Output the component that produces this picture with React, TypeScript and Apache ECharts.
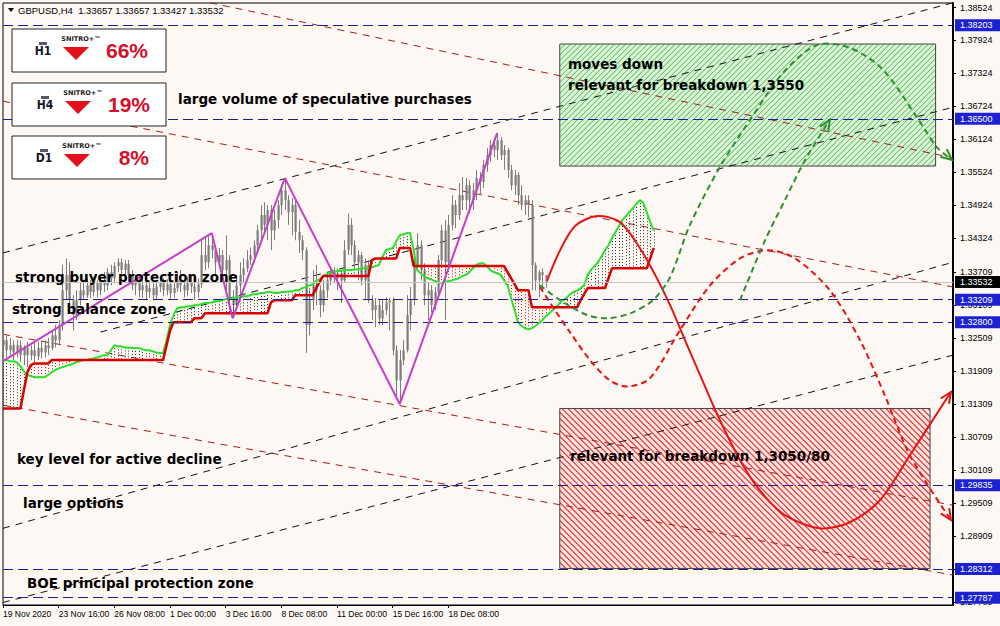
import React, { useEffect, useRef } from 'react';
import * as echarts from 'echarts';

// ---------- DATA ----------
const X_LABEL_BARS = [0, 16, 32, 48, 64, 80, 96, 112, 128];
const X_LABEL_TEXTS = ['19 Nov 2020', '23 Nov 16:00', '26 Nov 08:00', '1 Dec 00:00', '3 Dec 16:00', '8 Dec 08:00', '11 Dec 00:00', '15 Dec 16:00', '18 Dec 08:00'];
const Y_TICKS = [1.38524, 1.37924, 1.37324, 1.36724, 1.36124, 1.35524, 1.34924, 1.34324, 1.33709, 1.33109, 1.32509, 1.31909, 1.31309, 1.30709, 1.30109, 1.29509, 1.28909, 1.28309, 1.27709];
const LEVELS = [1.38203, 1.365, 1.33209, 1.328, 1.29835, 1.28312, 1.27787];
const LAST_PRICE = 1.33532;
const HEADER = 'GBPUSD,H4  1.33657 1.33657 1.33427 1.33532';

// [open, close, low, high] per H4 bar
const CANDLES = [
  [1.3238,1.3247,1.3220,1.3265],[1.3247,1.3229,1.3216,1.3256],[1.3229,1.3238,1.3220,1.3251],[1.3238,1.3225,1.3211,1.3247],
  [1.3225,1.3238,1.3216,1.3247],[1.3238,1.3220,1.3207,1.3247],[1.3220,1.3233,1.3202,1.3238],[1.3233,1.3220,1.3198,1.3244],
  [1.3220,1.3229,1.3211,1.3238],[1.3229,1.3218,1.3207,1.3242],[1.3218,1.3233,1.3211,1.3244],[1.3233,1.3225,1.3214,1.3247],
  [1.3225,1.3238,1.3216,1.3247],[1.3238,1.3233,1.3220,1.3251],[1.3233,1.3256,1.3229,1.3265],[1.3256,1.3247,1.3234,1.3275],
  [1.3247,1.3275,1.3238,1.3284],[1.3275,1.3338,1.3265,1.3384],[1.3338,1.3366,1.3320,1.3396],[1.3366,1.3320,1.3311,1.3389],
  [1.3320,1.3293,1.3265,1.3329],[1.3293,1.3320,1.3284,1.3338],[1.3320,1.3338,1.3311,1.3353],[1.3338,1.3329,1.3320,1.3356],
  [1.3329,1.3347,1.3324,1.3360],[1.3347,1.3335,1.3324,1.3356],[1.3335,1.3351,1.3327,1.3362],[1.3351,1.3338,1.3325,1.3356],
  [1.3338,1.3356,1.3329,1.3366],[1.3356,1.3347,1.3335,1.3371],[1.3347,1.3371,1.3338,1.3378],[1.3371,1.3360,1.3347,1.3384],
  [1.3360,1.3382,1.3353,1.3389],[1.3382,1.3389,1.3371,1.3396],[1.3389,1.3375,1.3366,1.3396],[1.3375,1.3386,1.3364,1.3393],
  [1.3386,1.3366,1.3353,1.3393],[1.3366,1.3347,1.3338,1.3375],[1.3347,1.3356,1.3329,1.3366],[1.3356,1.3338,1.3325,1.3364],
  [1.3338,1.3347,1.3324,1.3356],[1.3347,1.3335,1.3320,1.3356],[1.3335,1.3342,1.3324,1.3353],[1.3342,1.3329,1.3320,1.3351],
  [1.3329,1.3344,1.3322,1.3356],[1.3344,1.3353,1.3335,1.3364],[1.3353,1.3338,1.3327,1.3360],[1.3338,1.3349,1.3329,1.3358],
  [1.3349,1.3333,1.3320,1.3356],[1.3333,1.3342,1.3324,1.3351],[1.3342,1.3356,1.3335,1.3371],[1.3356,1.3347,1.3335,1.3375],
  [1.3347,1.3338,1.3325,1.3356],[1.3338,1.3353,1.3327,1.3362],[1.3353,1.3345,1.3333,1.3366],[1.3345,1.3335,1.3320,1.3356],
  [1.3335,1.3349,1.3325,1.3360],[1.3349,1.3402,1.3342,1.3429],[1.3402,1.3389,1.3375,1.3433],[1.3389,1.3420,1.3378,1.3436],
  [1.3420,1.3411,1.3396,1.3442],[1.3411,1.3389,1.3366,1.3420],[1.3389,1.3402,1.3378,1.3415],[1.3402,1.3375,1.3356,1.3411],
  [1.3375,1.3393,1.3338,1.3438],[1.3393,1.3324,1.3302,1.3402],[1.3324,1.3311,1.3287,1.3338],[1.3311,1.3347,1.3305,1.3366],
  [1.3347,1.3366,1.3329,1.3389],[1.3366,1.3378,1.3353,1.3396],[1.3378,1.3393,1.3371,1.3411],[1.3393,1.3402,1.3384,1.3416],
  [1.3402,1.3420,1.3389,1.3429],[1.3420,1.3447,1.3411,1.3457],[1.3447,1.3475,1.3429,1.3493],[1.3475,1.3457,1.3444,1.3498],
  [1.3457,1.3484,1.3429,1.3493],[1.3484,1.3447,1.3411,1.3493],[1.3447,1.3466,1.3429,1.3484],[1.3466,1.3493,1.3451,1.3502],
  [1.3493,1.3520,1.3475,1.3529],[1.3520,1.3502,1.3484,1.3542],[1.3502,1.3480,1.3457,1.3511],[1.3480,1.3493,1.3438,1.3506],
  [1.3493,1.3444,1.3429,1.3502],[1.3444,1.3429,1.3406,1.3466],[1.3429,1.3411,1.3393,1.3438],[1.3411,1.3275,1.3224,1.3416],
  [1.3275,1.3320,1.3256,1.3338],[1.3320,1.3347,1.3302,1.3375],[1.3347,1.3338,1.3311,1.3384],[1.3338,1.3311,1.3289,1.3347],
  [1.3311,1.3338,1.3298,1.3356],[1.3338,1.3356,1.3324,1.3371],[1.3356,1.3371,1.3347,1.3378],[1.3371,1.3360,1.3351,1.3380],
  [1.3360,1.3369,1.3338,1.3378],[1.3369,1.3356,1.3315,1.3375],[1.3356,1.3411,1.3353,1.3429],[1.3411,1.3457,1.3402,1.3478],
  [1.3457,1.3420,1.3402,1.3469],[1.3420,1.3389,1.3375,1.3429],[1.3389,1.3402,1.3356,1.3411],[1.3402,1.3356,1.3347,1.3407],
  [1.3356,1.3384,1.3320,1.3396],[1.3384,1.3320,1.3315,1.3393],[1.3320,1.3302,1.3284,1.3329],[1.3302,1.3311,1.3271,1.3324],
  [1.3311,1.3287,1.3275,1.3320],[1.3287,1.3302,1.3275,1.3320],[1.3302,1.3316,1.3293,1.3325],[1.3316,1.3320,1.3265,1.3325],
  [1.3320,1.3229,1.3220,1.3325],[1.3229,1.3174,1.3142,1.3238],[1.3174,1.3211,1.3131,1.3229],[1.3211,1.3229,1.3202,1.3247],
  [1.3229,1.3293,1.3225,1.3329],[1.3293,1.3320,1.3265,1.3344],[1.3320,1.3384,1.3311,1.3393],[1.3384,1.3420,1.3375,1.3442],
  [1.3420,1.3375,1.3356,1.3429],[1.3375,1.3329,1.3311,1.3387],[1.3329,1.3338,1.3284,1.3351],[1.3338,1.3311,1.3298,1.3347],
  [1.3311,1.3335,1.3302,1.3344],[1.3335,1.3393,1.3320,1.3402],[1.3393,1.3447,1.3384,1.3457],[1.3447,1.3389,1.3284,1.3466],
  [1.3389,1.3457,1.3375,1.3475],[1.3457,1.3493,1.3447,1.3511],[1.3493,1.3475,1.3451,1.3502],[1.3475,1.3511,1.3466,1.3533],
  [1.3511,1.3502,1.3484,1.3544],[1.3502,1.3529,1.3484,1.3542],[1.3529,1.3502,1.3478,1.3538],[1.3502,1.3520,1.3484,1.3533],
  [1.3520,1.3542,1.3502,1.3557],[1.3542,1.3535,1.3511,1.3553],[1.3535,1.3566,1.3524,1.3575],[1.3566,1.3584,1.3553,1.3597],
  [1.3584,1.3602,1.3571,1.3611],[1.3602,1.3593,1.3580,1.3615],[1.3593,1.3611,1.3575,1.3624],[1.3611,1.3584,1.3575,1.3617],
  [1.3584,1.3593,1.3557,1.3602],[1.3593,1.3557,1.3542,1.3597],[1.3557,1.3529,1.3520,1.3566],[1.3529,1.3548,1.3511,1.3557],
  [1.3548,1.3511,1.3493,1.3553],[1.3511,1.3493,1.3484,1.3529],[1.3493,1.3502,1.3475,1.3511],[1.3502,1.3493,1.3471,1.3511],
  [1.3493,1.3384,1.3338,1.3502],[1.3384,1.3356,1.3338,1.3389],[1.3356,1.3371,1.3325,1.3375],[1.3371,1.3366,1.3338,1.3378],
  [1.33657,1.33532,1.33427,1.33657],
];

// Ichimoku Senkou Span A (green) per bar, shifted forward
const SPAN_A = [
  1.3211,1.3211,1.3209,1.3209,1.3207,1.3200,1.3191,1.3184,1.3182,1.3180,1.3180,1.3180,1.3180,1.3184,1.3189,1.3193,
  1.3196,1.3198,1.3200,1.3202,1.3204,1.3207,1.3209,1.3211,1.3211,1.3213,1.3214,1.3216,1.3218,1.3220,1.3220,1.3229,
  1.3238,1.3236,1.3236,1.3234,1.3234,1.3233,1.3233,1.3233,1.3231,1.3229,1.3229,1.3227,1.3225,1.3224,1.3224,1.3247,
  1.3275,1.3293,1.3305,1.3307,1.3307,1.3309,1.3309,1.3311,1.3311,1.3313,1.3315,1.3315,1.3316,1.3318,1.3318,1.3320,
  1.3322,1.3322,1.3324,1.3325,1.3325,1.3327,1.3327,1.3329,1.3331,1.3331,1.3333,1.3333,1.3335,1.3335,1.3333,1.3333,
  1.3335,1.3335,1.3336,1.3336,1.3338,1.3338,1.3342,1.3344,1.3347,1.3349,1.3355,1.3358,1.3364,1.3367,1.3371,1.3371,
  1.3373,1.3373,1.3375,1.3375,1.3375,1.3376,1.3376,1.3378,1.3378,1.3378,1.3380,1.3382,1.3384,1.3398,1.3411,1.3413,
  1.3415,1.3427,1.3438,1.3440,1.3442,1.3442,1.3411,1.3375,1.3369,1.3364,1.3360,1.3358,1.3355,1.3353,1.3351,1.3353,
  1.3355,1.3356,1.3358,1.3360,1.3364,1.3366,1.3371,1.3378,1.3384,1.3387,1.3387,1.3382,1.3375,1.3371,1.3369,1.3366,
  1.3356,1.3347,1.3324,1.3302,1.3280,1.3273,1.3269,1.3267,1.3269,1.3273,1.3278,1.3284,1.3291,1.3296,1.3302,1.3307,
  1.3315,1.3320,1.3325,1.3331,1.3335,1.3338,1.3342,1.3347,1.3366,1.3375,1.3382,1.3389,1.3400,1.3411,1.3420,1.3433,
  1.3444,1.3455,1.3466,1.3473,1.3480,1.3487,1.3495,1.3502,1.3497,1.3480,1.3462,1.3447,
];

// Ichimoku Senkou Span B (red) per bar, shifted forward
const SPAN_B = [
  1.3123,1.3123,1.3123,1.3123,1.3123,1.3123,1.3156,1.3189,1.3202,1.3205,1.3205,1.3205,1.3205,1.3205,1.3211,1.3211,
  1.3211,1.3211,1.3211,1.3211,1.3211,1.3211,1.3211,1.3211,1.3211,1.3211,1.3211,1.3211,1.3211,1.3211,1.3211,1.3211,
  1.3211,1.3211,1.3211,1.3211,1.3211,1.3211,1.3211,1.3211,1.3211,1.3211,1.3211,1.3211,1.3211,1.3211,1.3211,1.3238,
  1.3265,1.3280,1.3280,1.3280,1.3280,1.3280,1.3280,1.3287,1.3287,1.3287,1.3296,1.3296,1.3296,1.3296,1.3296,1.3296,
  1.3296,1.3296,1.3296,1.3296,1.3296,1.3296,1.3296,1.3296,1.3296,1.3296,1.3296,1.3296,1.3296,1.3316,1.3320,1.3320,
  1.3320,1.3320,1.3320,1.3320,1.3329,1.3329,1.3329,1.3329,1.3329,1.3329,1.3342,1.3353,1.3364,1.3364,1.3364,1.3364,
  1.3364,1.3364,1.3364,1.3364,1.3364,1.3364,1.3364,1.3364,1.3364,1.3364,1.3393,1.3396,1.3396,1.3396,1.3396,1.3396,
  1.3396,1.3396,1.3415,1.3415,1.3415,1.3415,1.3382,1.3382,1.3382,1.3382,1.3382,1.3382,1.3382,1.3382,1.3382,1.3382,
  1.3382,1.3382,1.3382,1.3382,1.3382,1.3382,1.3382,1.3382,1.3382,1.3382,1.3382,1.3382,1.3382,1.3382,1.3382,1.3382,
  1.3382,1.3371,1.3360,1.3349,1.3338,1.3338,1.3338,1.3338,1.3307,1.3307,1.3307,1.3307,1.3307,1.3307,1.3307,1.3307,
  1.3307,1.3307,1.3307,1.3307,1.3307,1.3307,1.3320,1.3331,1.3342,1.3342,1.3342,1.3342,1.3342,1.3342,1.3360,1.3378,
  1.3378,1.3378,1.3378,1.3378,1.3378,1.3378,1.3378,1.3378,1.3378,1.3378,1.3396,1.3415,
];

const ZIGZAG = [[0, 1.3209], [60, 1.3442], [66, 1.3287], [81, 1.3542], [114, 1.3131], [142, 1.3624]];

const BLACK_TRENDS = [
  [[0, 1.3406], [273, 1.3861]],
  [[28, 1.3262], [273, 1.3671]],
  [[0, 1.2905], [273, 1.3389]],
  [[0, 1.2770], [273, 1.3220]],
];
const RED_TRENDS = [
  [[59.5, 1.3861], [273, 1.3579]],
  [[0, 1.3682], [273, 1.3344]],
  [[0, 1.3258], [273, 1.2947]],
  [[0, 1.3129], [273, 1.2820]],
];

const RED_SOLID = [[156.3,1.3355],[160.1,1.3411],[164.4,1.3455],[170.7,1.3473],[177.3,1.3462],[183,1.3415],[187.4,1.3366],[191.7,1.3311],[196,1.3247],[200.3,1.3184],[206,1.3102],[211.8,1.3029],[217.5,1.2974],[224.7,1.2929],[234.8,1.2905],[243.4,1.2916],[252,1.2956],[260.6,1.3038],[272.4,1.3153]];
const RED_DASHED = [[154.3,1.3344],[158.6,1.3302],[162.9,1.3262],[168.7,1.3211],[174.4,1.3174],[179.6,1.3163],[185.9,1.3178],[194.5,1.3265],[203.2,1.3347],[211.8,1.3396],[219.8,1.3411],[227.6,1.3396],[237.6,1.3338],[246.3,1.3247],[253.4,1.3147],[260.6,1.3038],[272.4,1.2920]];
const GREEN_DASHED_1 = [[154.3,1.3347],[160.1,1.3320],[167.8,1.3293],[173.6,1.3287],[180.2,1.3296],[186.8,1.3320],[191.7,1.3362],[197.4,1.3457],[206,1.3562],[214.7,1.3648],[224.1,1.3733],[233.9,1.3784],[243.4,1.3779],[252.9,1.3739],[262.6,1.3653],[268.4,1.3598],[272.7,1.3575]];
const GREEN_DASHED_2 = [[211.8,1.3320],[219,1.3429],[224.7,1.3502],[230.5,1.3575],[237.6,1.3648]];

const GREEN_BOX = [160, 1.3786, 268, 1.3564];
const RED_BOX = [160, 1.3123, 266.4, 1.2832];

const INDICATOR_TF = ['H1', 'H4', 'D1'];
const INDICATOR_PCT = ['66%', '19%', '8%'];

const ANNOTATION_TEXTS = [
  'large volume of speculative purchases',
  'moves down',
  'relevant for breakdown 1,3550',
  'strong buyer protection zone',
  'strong balance zone',
  'relevant for breakdown 1,3050/80',
  'key level for active decline',
  'large options',
  'BOE principal protection zone',
];

// ---------- LAYOUT / STYLE ----------
const ANNOTATION_POS = [[178, 100], [568, 65], [568, 86], [15, 278], [12, 310], [570, 457], [17, 460], [23, 504], [27, 584]];
const INDICATOR_TOP = [29, 83, 136];
const INDICATOR_DX = [0, 2, 1];

const BOX_STYLES = [
  { fill: '#d9f4d6', hatch: '#4fb54f', dir: '/', step: 5.5 },
  { fill: '#fce3de', hatch: '#e02b2b', dir: '\\', step: 6 },
];
const FORECAST_STYLES = [
  { color: '#e21616', dash: 'solid', width: 2 },
  { color: '#e21616', dash: [6, 4], width: 2 },
  { color: '#2f8f2f', dash: [6, 4], width: 2 },
  { color: '#2f8f2f', dash: [6, 4], width: 2 },
];

const Y_MAX = 1.38606;
const Y_MIN = 1.27655;
const AXIS_FONT = '"Liberation Sans", Arial, sans-serif';
const NOTE_FONT = '"Comic Sans MS", "DejaVu Sans", sans-serif';

export default function App() {
  const ref = useRef<HTMLDivElement>(null);

  useEffect(() => {
    if (!ref.current) return;
    const chart = echarts.init(ref.current, null, { renderer: 'svg' });

    const boxes = [GREEN_BOX, RED_BOX];
    const forecasts = [RED_SOLID, RED_DASHED, GREEN_DASHED_1, GREEN_DASHED_2];

    const trendSeries: any[] = [];
    BLACK_TRENDS.forEach((t) => trendSeries.push({
      type: 'line', data: t, showSymbol: false, silent: true, z: 1,
      lineStyle: { color: '#111', width: 1, type: [7, 6] },
    }));
    RED_TRENDS.forEach((t) => trendSeries.push({
      type: 'line', data: t, showSymbol: false, silent: true, z: 1,
      lineStyle: { color: '#a31c1c', width: 1, type: [7, 6] },
    }));

    const levelLabel = (bg: string) => ({
      show: true, position: 'end', distance: 2, color: '#fff', backgroundColor: bg,
      fontSize: 9, fontFamily: AXIS_FONT, padding: [1, 9, 0, 5], lineHeight: 11,
    });

    const graphics: any[] = [];
    // header
    graphics.push({ type: 'polygon', z: 100, shape: { points: [[8, 8], [14, 8], [11, 12]] }, style: { fill: '#000' } });
    graphics.push({ type: 'text', z: 100, x: 18, y: 5, style: { text: HEADER, fill: '#000', font: `9.5px ${AXIS_FONT}` } });
    // indicator boxes
    INDICATOR_TF.forEach((tf, i) => {
      const y = INDICATOR_TOP[i];
      const dx = INDICATOR_DX[i];
      graphics.push({ type: 'rect', z: 100, shape: { x: 12, y, width: 154, height: 43 }, style: { fill: '#fff', stroke: '#222', lineWidth: 1 } });
      graphics.push({ type: 'rect', z: 101, shape: { x: 39 + dx, y: y + 13, width: 8, height: 3 }, style: { fill: '#55596a' } });
      graphics.push({ type: 'text', z: 101, x: 43 + dx, y: y + 16, style: { text: tf, fill: '#15182a', font: `bold 12px "DejaVu Sans Condensed", "DejaVu Sans", sans-serif`, textAlign: 'center' } });
      graphics.push({ type: 'text', z: 101, x: 81 + dx, y: y + 6, style: { text: 'SNITRO+™', fill: '#222', font: `bold 6.5px "DejaVu Sans", sans-serif`, textAlign: 'center' } });
      graphics.push({ type: 'polygon', z: 101, shape: { points: [[63 + dx, y + 18], [89 + dx, y + 18], [76 + dx, y + 31]] }, style: { fill: '#e3101c' } });
      graphics.push({ type: 'text', z: 101, x: 148 + dx, y: y + 11, style: { text: INDICATOR_PCT[i], fill: '#d2102a', font: `bold 21px "Liberation Sans", Arial, sans-serif`, textAlign: 'right' } });
    });
    // annotations
    ANNOTATION_TEXTS.forEach((t, i) => {
      graphics.push({ type: 'text', z: 110, x: ANNOTATION_POS[i][0], y: ANNOTATION_POS[i][1] - 8, style: { text: t, fill: '#000', font: `bold 13.5px ${NOTE_FONT}` } });
    });

    const option: any = {
      animation: false,
      backgroundColor: '#fdf8f4',
      grid: { left: 3, right: 47, top: 3, bottom: 21, show: true, borderColor: '#000', borderWidth: 1, outerBoundsMode: 'none' },
      xAxis: {
        type: 'value', min: 0, max: 273,
        axisLine: { show: true, onZero: false, lineStyle: { color: '#000', width: 1 } },
        axisTick: { show: true, customValues: X_LABEL_BARS, length: 3, lineStyle: { color: '#000' } },
        axisLabel: {
          show: true, customValues: X_LABEL_BARS, align: 'left', margin: 4, hideOverlap: false,
          color: '#000', fontSize: 8.5, fontFamily: AXIS_FONT,
          formatter: (v: number) => { const k = X_LABEL_BARS.indexOf(Math.round(v)); return k >= 0 ? X_LABEL_TEXTS[k] : ''; },
        },
        splitLine: { show: false },
      },
      yAxis: {
        type: 'value', position: 'right', min: Y_MIN, max: Y_MAX,
        axisLine: { show: true, onZero: false, lineStyle: { color: '#000', width: 2 } },
        axisTick: { show: true, customValues: Y_TICKS, length: 3, lineStyle: { color: '#000' } },
        axisLabel: {
          show: true, customValues: Y_TICKS, margin: 7, color: '#000', fontSize: 9, fontFamily: AXIS_FONT, hideOverlap: false,
          formatter: (v: number) => v.toFixed(5),
        },
        splitLine: { show: false },
      },
      graphic: { elements: graphics },
      series: [
        {
          type: 'custom', name: 'boxes', z: 0, silent: true, clip: false,
          data: boxes.map((b, i) => [b[0], b[1], i]),
          encode: { x: 0, y: 1 },
          renderItem: (params: any, api: any) => {
            const b = boxes[params.dataIndex];
            const st = BOX_STYLES[params.dataIndex];
            const p0 = api.coord([b[0], b[1]]);
            const p1 = api.coord([b[2], b[3]]);
            const x0 = Math.min(p0[0], p1[0]), x1 = Math.max(p0[0], p1[0]);
            const y0 = Math.min(p0[1], p1[1]), y1 = Math.max(p0[1], p1[1]);
            const ch: any[] = [{ type: 'rect', shape: { x: x0, y: y0, width: x1 - x0, height: y1 - y0 }, style: { fill: st.fill } }];
            const s = st.step;
            if (st.dir === '/') {
              for (let c = x0 + y0 + s; c < x1 + y1; c += s) {
                const xa = Math.max(x0, c - y1), xb = Math.min(x1, c - y0);
                ch.push({ type: 'line', shape: { x1: xa, y1: c - xa, x2: xb, y2: c - xb }, style: { stroke: st.hatch, lineWidth: 1 } });
              }
            } else {
              for (let c = x0 - y1 + s; c < x1 - y0; c += s) {
                const xa = Math.max(x0, c + y0), xb = Math.min(x1, c + y1);
                ch.push({ type: 'line', shape: { x1: xa, y1: xa - c, x2: xb, y2: xb - c }, style: { stroke: st.hatch, lineWidth: 1.1 } });
              }
            }
            ch.push({ type: 'rect', shape: { x: x0, y: y0, width: x1 - x0, height: y1 - y0 }, style: { fill: 'none', stroke: '#444', lineWidth: 1 } });
            return { type: 'group', children: ch };
          },
        },
        ...trendSeries,
        {
          type: 'custom', name: 'candles', z: 2, silent: true,
          data: CANDLES.map((c, i) => [i, c[0], c[1], c[2], c[3]]),
          encode: { x: 0, y: [1, 2, 3, 4] },
          renderItem: (params: any, api: any) => {
            const i = api.value(0);
            const pO = api.coord([i, api.value(1)]);
            const pC = api.coord([i, api.value(2)]);
            const pL = api.coord([i, api.value(3)]);
            const pH = api.coord([i, api.value(4)]);
            const x = Math.round(pO[0]) + 0.5;
            const top = Math.min(pO[1], pC[1]);
            const h = Math.max(1, Math.abs(pO[1] - pC[1]));
            return {
              type: 'group', children: [
                { type: 'line', shape: { x1: x, y1: pH[1], x2: x, y2: pL[1] }, style: { stroke: '#7d7d7d', lineWidth: 1 } },
                { type: 'rect', shape: { x: x - 1, y: top, width: 2.2, height: h }, style: { fill: '#7d7d7d' } },
              ],
            };
          },
        },
        {
          type: 'custom', name: 'cloud', z: 3, silent: true,
          data: SPAN_A.map((a, i) => [i, a, SPAN_B[i]]),
          encode: { x: 0, y: [1, 2] },
          renderItem: (params: any, api: any) => {
            const i = api.value(0), a = api.value(1), b = api.value(2);
            const pa = api.coord([i, a]);
            const pb = api.coord([i, b]);
            const x = Math.round(pa[0]) + 0.5;
            return { type: 'line', shape: { x1: x, y1: pa[1], x2: x, y2: pb[1] }, style: { stroke: a >= b ? '#263626' : '#cc1a1a', lineWidth: 1, lineDash: [1, 2] } };
          },
        },
        {
          type: 'line', name: 'spanA', z: 4, silent: true, showSymbol: false,
          data: SPAN_A.map((v, i) => [i, v]),
          lineStyle: { color: '#2ee02e', width: 2 },
        },
        {
          type: 'line', name: 'spanB', z: 4, silent: true, showSymbol: false,
          data: SPAN_B.map((v, i) => [i, v]),
          lineStyle: { color: '#d80000', width: 2.5 },
        },
        {
          type: 'line', name: 'zigzag', z: 5, silent: true, showSymbol: false,
          data: ZIGZAG,
          lineStyle: { color: '#c63fc6', width: 2 },
          markLine: {
            silent: true, symbol: ['none', 'none'], animation: false, precision: 5,
            data: [
              ...LEVELS.map((v) => ({ yAxis: v, lineStyle: { color: '#1c1c96', width: 1, type: [10, 5] }, label: { ...levelLabel('#1d22d0'), formatter: v.toFixed(5) } })),
              { yAxis: LAST_PRICE, lineStyle: { color: '#c4c4c4', width: 1, type: 'solid' }, label: { ...levelLabel('#000'), formatter: LAST_PRICE.toFixed(5) } },
            ],
          },
        },
        {
          type: 'custom', name: 'forecast', z: 6, silent: true, clip: false,
          data: forecasts.map((f, i) => [f[0][0], f[0][1], i]),
          encode: { x: 0, y: 1 },
          renderItem: (params: any, api: any) => {
            const f = forecasts[params.dataIndex];
            const st = FORECAST_STYLES[params.dataIndex];
            const pts = f.map((p) => api.coord(p));
            const n = pts.length;
            const P = pts[n - 1], Q = pts[n - 2];
            let dx = P[0] - Q[0], dy = P[1] - Q[1];
            const len = Math.hypot(dx, dy) || 1;
            dx /= len; dy /= len;
            const L = 11, W = 5;
            const w1 = [P[0] - dx * L - dy * W, P[1] - dy * L + dx * W];
            const w2 = [P[0] - dx * L + dy * W, P[1] - dy * L - dx * W];
            return {
              type: 'group', children: [
                { type: 'polyline', shape: { points: pts, smooth: 0.3 }, style: { stroke: st.color, lineWidth: st.width, lineDash: st.dash, fill: null } },
                { type: 'polyline', shape: { points: [w1, P, w2] }, style: { stroke: st.color, lineWidth: 2, fill: null } },
              ],
            };
          },
        },
      ],
    };

    chart.setOption(option);
    return () => chart.dispose();
  }, []);

  return <div ref={ref} style={{ position: 'fixed', left: 0, top: 0, width: 1000, height: 626 }} />;
}
